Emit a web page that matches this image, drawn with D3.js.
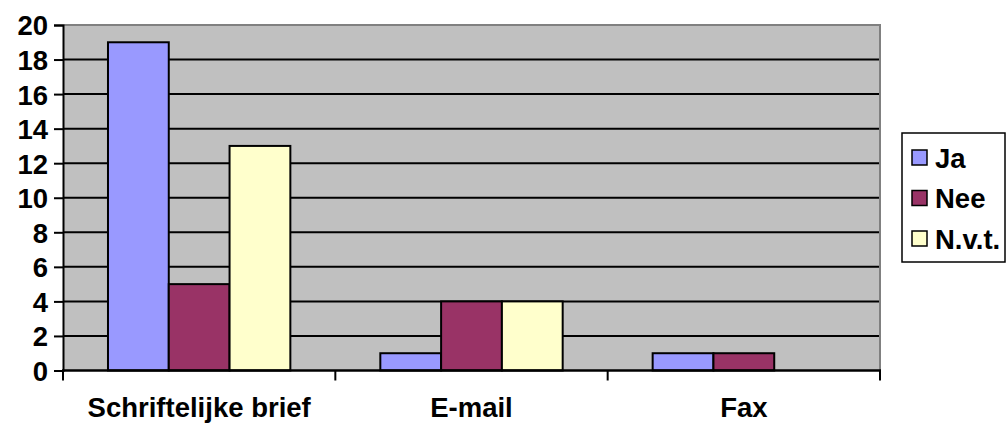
<!DOCTYPE html>
<html>
<head>
<meta charset="utf-8">
<script src="https://cdn.jsdelivr.net/npm/d3@7"></script>
<style>
  html, body { margin: 0; padding: 0; background: #fff; }
  svg { display: block; }
  svg text { font-family: "Liberation Sans", Arial, sans-serif; font-weight: 700; fill: #000; }
</style>
</head>
<body>
<svg id="chart" width="1007" height="425"></svg>
<script>
// Survey answers per contact channel
const categories = ["Schriftelijke brief", "E-mail", "Fax"];
const seriesNames = ["Ja", "Nee", "N.v.t."];
const jaValues = [19, 1, 1];
const neeValues = [5, 4, 1];
const nvtValues = [13, 4, 0];
const yTicks = [0, 2, 4, 6, 8, 10, 12, 14, 16, 18, 20];
const seriesColors = ["#9999FF", "#993366", "#FFFFCC"];

const series = [jaValues, neeValues, nvtValues];
const FONT = 27.5;

const svg = d3.select("#chart");
const plot = { left: 63, right: 880, top: 25, bottom: 370.5 };

const x = d3.scaleBand().domain(categories).range([plot.left, plot.right]);
const xInner = d3.scaleBand().domain(seriesNames)
  .range([0, x.bandwidth()]).paddingInner(0).paddingOuter(0.74);
const y = d3.scaleLinear().domain([0, 20]).range([plot.bottom, plot.top]);

// plot background
svg.append("rect")
  .attr("x", plot.left).attr("y", plot.top)
  .attr("width", plot.right - plot.left).attr("height", plot.bottom - plot.top)
  .attr("fill", "#C0C0C0");

// horizontal gridlines
svg.append("g").selectAll("line")
  .data(yTicks.filter(d => d > 0 && d < 20))
  .join("line")
  .attr("x1", plot.left).attr("x2", plot.right)
  .attr("y1", d => y(d)).attr("y2", d => y(d))
  .attr("stroke", "#000").attr("stroke-width", 2);

// top and right frame of plot area
svg.append("path")
  .attr("d", `M${plot.left},${plot.top}H${plot.right}V${plot.bottom}`)
  .attr("fill", "none").attr("stroke", "#808080").attr("stroke-width", 2);

// bars
const groups = svg.append("g").selectAll("g")
  .data(categories)
  .join("g")
  .attr("transform", d => `translate(${x(d)},0)`);

groups.selectAll("rect")
  .data((c, ci) => seriesNames.map((s, si) => ({ s, si, v: series[si][ci] })).filter(d => d.v > 0))
  .join("rect")
  .attr("x", d => xInner(d.s))
  .attr("width", xInner.bandwidth())
  .attr("y", d => y(d.v))
  .attr("height", d => y(0) - y(d.v))
  .attr("fill", d => seriesColors[d.si])
  .attr("stroke", "#000").attr("stroke-width", 2);

// y axis
const yAxis = d3.axisLeft(y).tickValues(yTicks).tickSize(9).tickPadding(6);
const gy = svg.append("g").attr("transform", `translate(${plot.left},0)`).call(yAxis);
gy.attr("font-family", null).attr("font-size", null);
gy.select(".domain").attr("stroke", "#000").attr("stroke-width", 2);
gy.selectAll(".tick line").attr("stroke", "#000").attr("stroke-width", 2);
gy.selectAll(".tick text").style("font-size", FONT + "px").attr("dy", "0.36em");

// x axis
const xEdges = d3.scaleLinear().domain([0, categories.length]).range([plot.left, plot.right]);
svg.append("line")
  .attr("x1", plot.left - 1).attr("x2", plot.right + 1)
  .attr("y1", plot.bottom).attr("y2", plot.bottom)
  .attr("stroke", "#000").attr("stroke-width", 2.5);
svg.append("g").selectAll("line")
  .data(d3.range(categories.length + 1))
  .join("line")
  .attr("x1", d => xEdges(d)).attr("x2", d => xEdges(d))
  .attr("y1", plot.bottom).attr("y2", plot.bottom + 10)
  .attr("stroke", "#000").attr("stroke-width", 2);
svg.append("g").selectAll("text")
  .data(categories)
  .join("text")
  .attr("x", d => x(d) + x.bandwidth() / 2)
  .attr("y", 417)
  .attr("text-anchor", "middle")
  .style("font-size", FONT + "px")
  .text(d => d);

// legend
const legend = svg.append("g");
legend.append("rect")
  .attr("x", 902).attr("y", 133).attr("width", 103).attr("height", 129)
  .attr("fill", "#fff").attr("stroke", "#000").attr("stroke-width", 1.5);
const rowY = d3.scalePoint().domain(seriesNames).range([158, 239]);
const rows = legend.selectAll("g.row")
  .data(seriesNames)
  .join("g")
  .attr("class", "row")
  .attr("transform", d => `translate(0,${rowY(d)})`);
rows.append("rect")
  .attr("x", 912).attr("y", -8).attr("width", 15).attr("height", 15)
  .attr("fill", (d, i) => seriesColors[i])
  .attr("stroke", "#000").attr("stroke-width", 1.5);
rows.append("text")
  .attr("x", 935).attr("y", 9.5)
  .style("font-size", FONT + "px")
  .text(d => d);
</script>
</body>
</html>
